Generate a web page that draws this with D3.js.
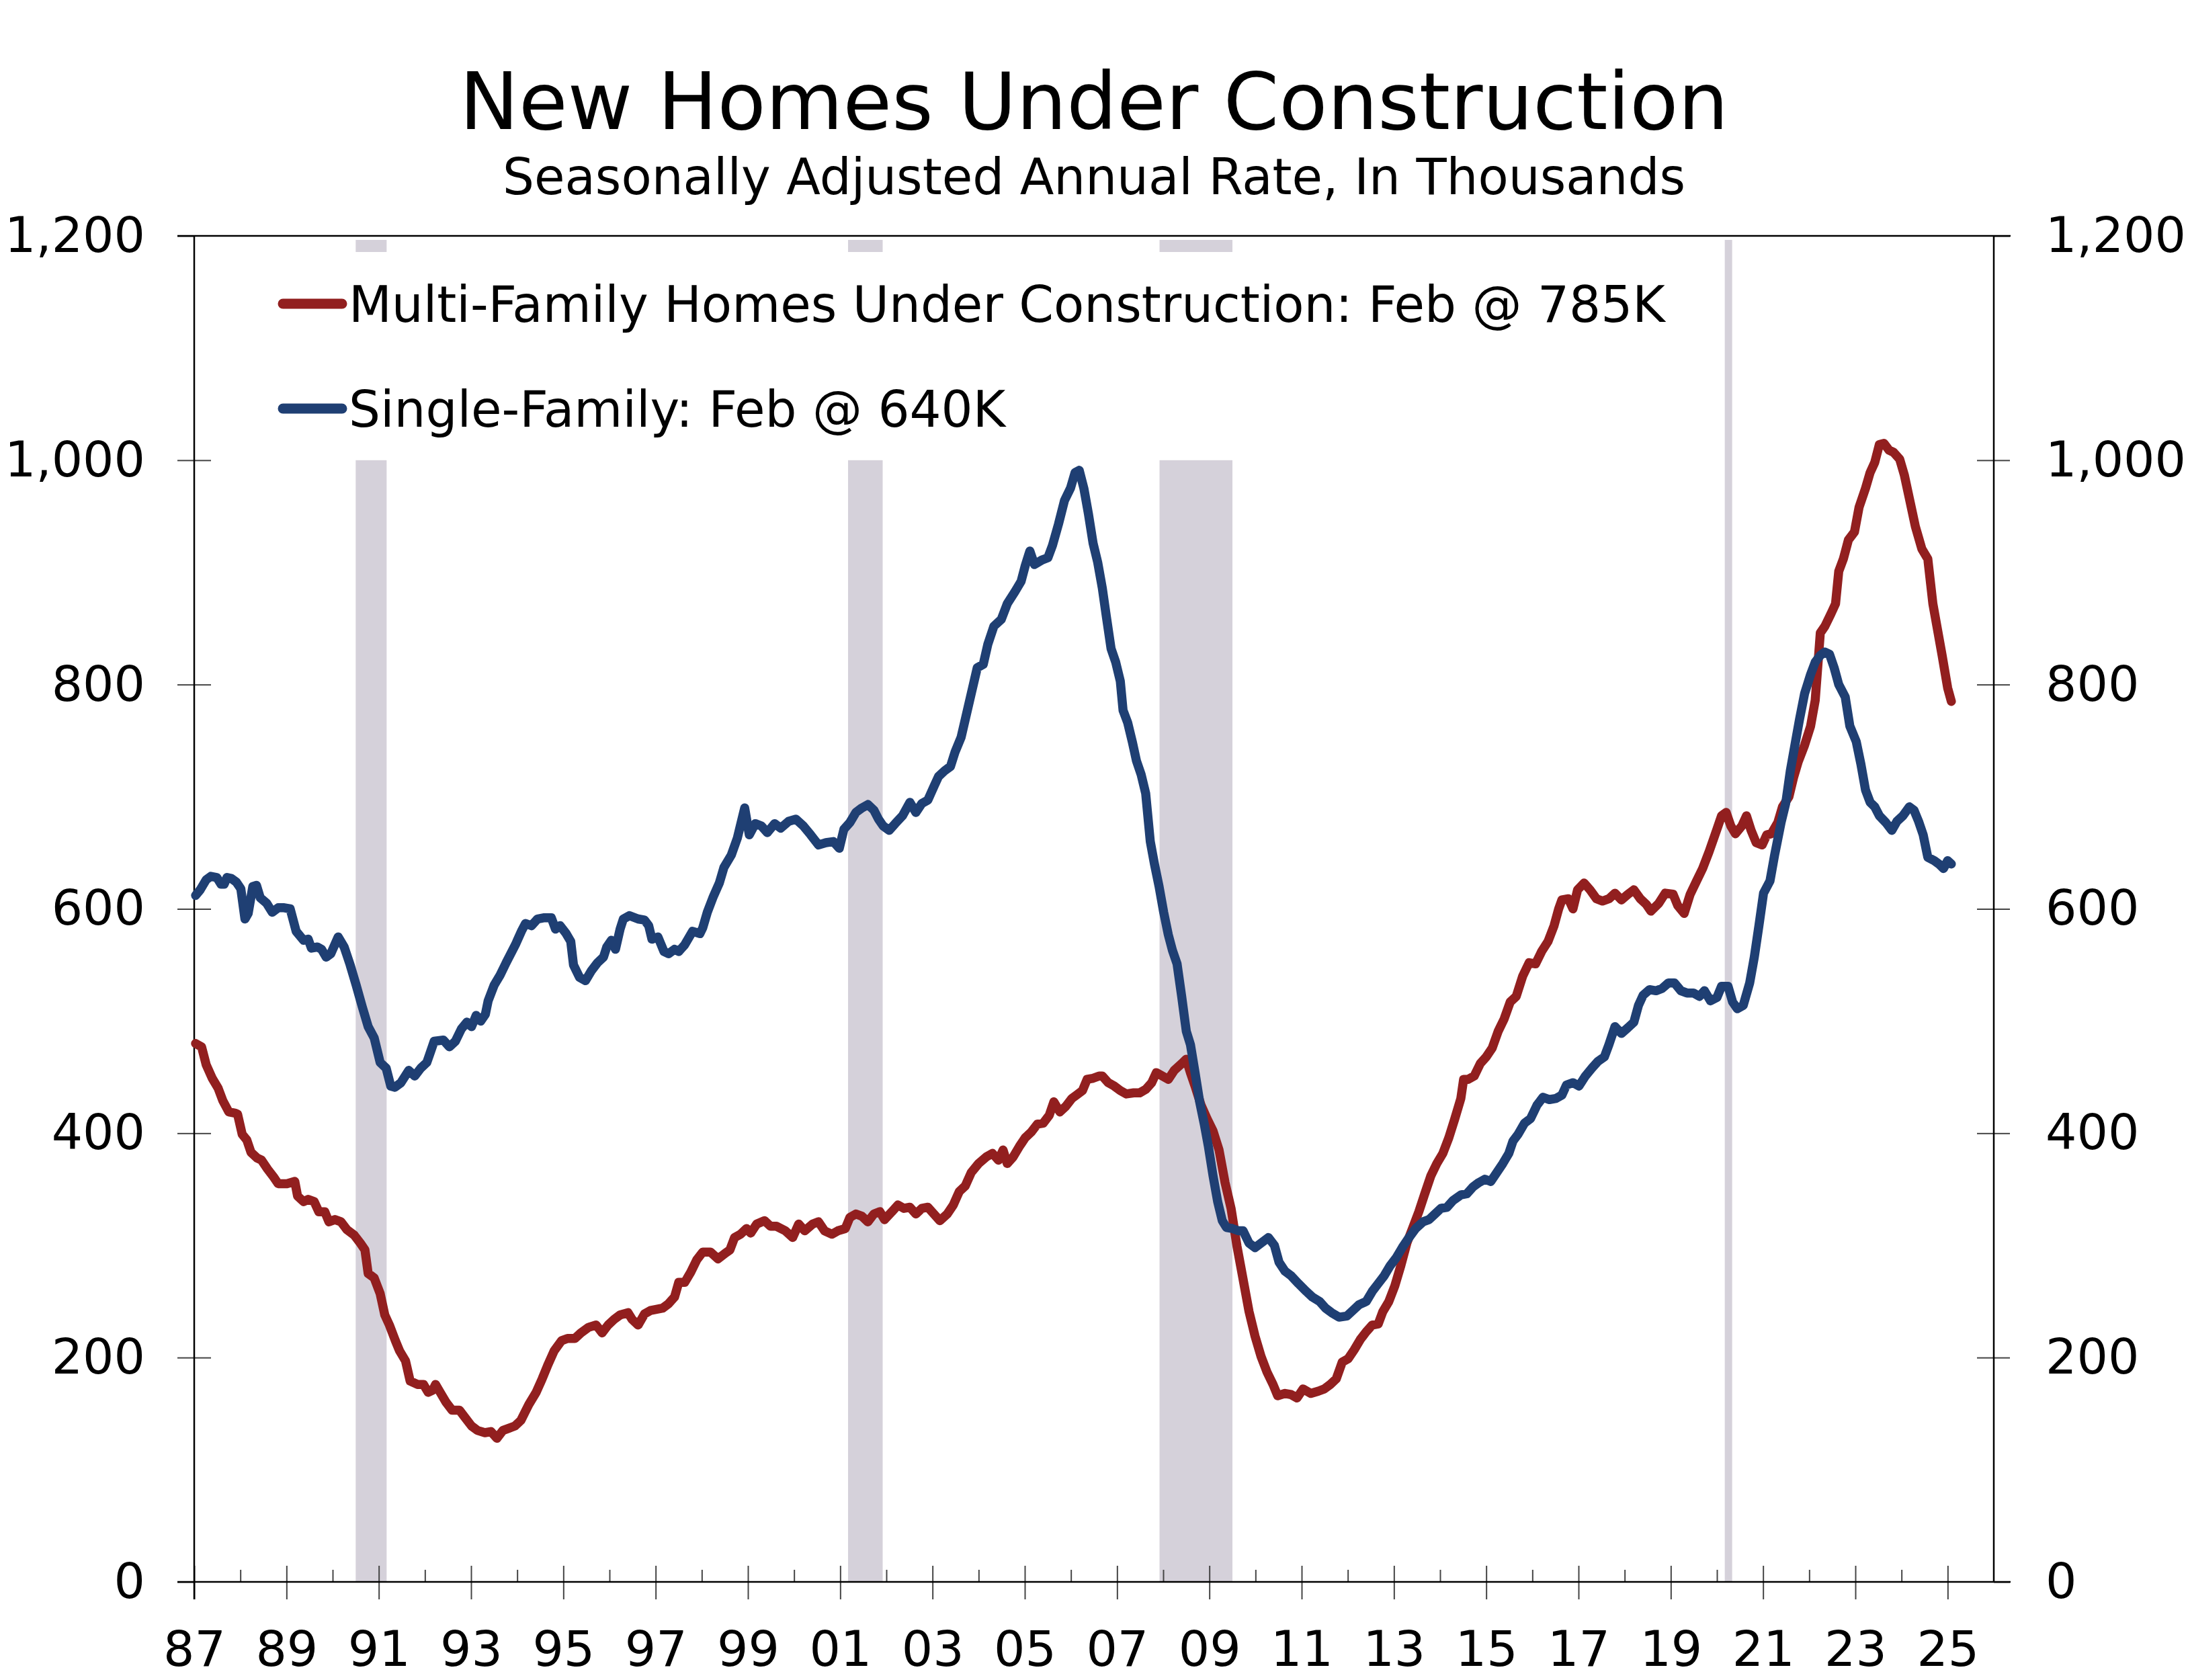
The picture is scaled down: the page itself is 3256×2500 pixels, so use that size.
<!DOCTYPE html>
<html>
<head>
<meta charset="utf-8">
<script src="https://cdn.jsdelivr.net/npm/d3@7"></script>
<style>
  body { margin: 0; background: #fff; }
  svg { font-family: "DejaVu Sans", Verdana, sans-serif; }
</style>
</head>
<body>
<script>
// values, [decimal year, thousands of units]
var multiFamily = [
  [1987.03,480],[1987.16,477],[1987.26,461],[1987.39,449],[1987.52,440],[1987.62,429],[1987.75,419],[1987.88,418],
  [1987.94,417],[1988.04,399],[1988.14,394],[1988.23,383],[1988.36,378],[1988.46,376],[1988.59,368],[1988.72,361],
  [1988.82,355],[1989.01,355],[1989.18,357],[1989.24,344],[1989.37,339],[1989.47,341],[1989.60,339],[1989.70,330],
  [1989.83,330],[1989.92,321],[1990.05,323],[1990.18,321],[1990.31,314],[1990.47,309],[1990.60,302],[1990.70,296],
  [1990.77,275],[1990.90,271],[1991.03,257],[1991.13,238],[1991.23,229],[1991.36,215],[1991.45,206],[1991.58,197],
  [1991.68,179],[1991.84,176],[1991.97,176],[1992.07,169],[1992.17,171],[1992.23,176],[1992.33,169],[1992.46,160],
  [1992.59,153],[1992.75,153],[1992.88,146],[1993.01,139],[1993.14,135],[1993.30,133],[1993.43,134],[1993.56,128],
  [1993.69,135],[1993.82,137],[1993.95,139],[1994.08,144],[1994.25,158],[1994.41,169],[1994.54,181],[1994.67,194],
  [1994.80,206],[1994.96,215],[1995.09,217],[1995.25,217],[1995.38,222],[1995.55,227],[1995.71,229],[1995.84,222],
  [1995.97,229],[1996.10,234],[1996.23,238],[1996.40,240],[1996.49,234],[1996.62,229],[1996.76,239],[1996.89,242],
  [1997.02,243],[1997.15,244],[1997.28,248],[1997.41,254],[1997.50,267],[1997.63,267],[1997.76,276],[1997.89,287],
  [1998.02,294],[1998.19,294],[1998.35,288],[1998.51,293],[1998.61,296],[1998.71,307],[1998.84,310],[1998.97,315],
  [1999.06,311],[1999.19,319],[1999.36,322],[1999.49,317],[1999.62,317],[1999.81,313],[1999.97,307],[2000.10,319],
  [2000.23,313],[2000.40,319],[2000.53,321],[2000.66,313],[2000.82,310],[2000.95,313],[2001.11,315],[2001.21,325],
  [2001.34,328],[2001.47,326],[2001.60,321],[2001.73,328],[2001.86,330],[2001.96,323],[2002.12,330],[2002.25,336],
  [2002.38,333],[2002.51,334],[2002.64,328],[2002.77,333],[2002.90,334],[2003.03,328],[2003.16,322],[2003.32,328],
  [2003.45,336],[2003.58,348],[2003.71,353],[2003.84,365],[2004.00,373],[2004.17,379],[2004.30,382],[2004.43,376],
  [2004.53,385],[2004.62,373],[2004.75,379],[2004.88,388],[2005.01,396],[2005.14,401],[2005.27,408],[2005.40,409],
  [2005.53,416],[2005.63,428],[2005.76,419],[2005.89,424],[2006.02,431],[2006.12,434],[2006.25,438],[2006.35,448],
  [2006.48,449],[2006.61,451],[2006.68,451],[2006.81,445],[2006.94,442],[2007.07,438],[2007.20,435],[2007.36,436],
  [2007.49,436],[2007.62,439],[2007.75,445],[2007.85,454],[2007.98,451],[2008.11,448],[2008.24,456],[2008.40,462],
  [2008.50,466],[2008.59,454],[2008.69,442],[2008.82,425],[2008.95,413],[2009.08,402],[2009.21,385],[2009.34,356],
  [2009.47,333],[2009.60,299],[2009.73,270],[2009.86,241],[2009.99,219],[2010.12,201],[2010.25,187],[2010.38,176],
  [2010.48,166],[2010.64,168],[2010.77,167],[2010.90,164],[2011.03,172],[2011.20,168],[2011.36,170],[2011.49,172],
  [2011.62,176],[2011.75,181],[2011.88,196],[2012.01,199],[2012.14,207],[2012.27,216],[2012.40,223],[2012.53,229],
  [2012.66,230],[2012.76,241],[2012.89,250],[2013.02,264],[2013.15,282],[2013.28,302],[2013.41,316],[2013.54,330],
  [2013.66,345],[2013.80,362],[2013.93,373],[2014.06,382],[2014.19,396],[2014.32,413],[2014.45,431],[2014.51,448],
  [2014.61,448],[2014.74,451],[2014.87,462],[2015.00,468],[2015.13,476],[2015.26,491],[2015.39,502],[2015.52,517],
  [2015.65,522],[2015.79,540],[2015.93,552],[2016.07,551],[2016.20,562],[2016.34,571],[2016.47,585],[2016.57,600],
  [2016.64,608],[2016.78,609],[2016.88,600],[2016.98,617],[2017.12,623],[2017.25,617],[2017.39,609],[2017.52,607],
  [2017.66,609],[2017.79,614],[2017.93,608],[2018.07,613],[2018.20,617],[2018.34,609],[2018.47,604],[2018.57,598],
  [2018.74,605],[2018.88,614],[2019.05,613],[2019.15,603],[2019.29,596],[2019.42,613],[2019.56,625],[2019.69,636],
  [2019.83,651],[2020.00,671],[2020.10,683],[2020.20,686],[2020.30,674],[2020.40,667],[2020.54,674],[2020.64,683],
  [2020.74,670],[2020.85,659],[2020.98,657],[2021.08,666],[2021.18,667],[2021.32,677],[2021.42,691],[2021.56,700],
  [2021.66,717],[2021.76,731],[2021.90,746],[2022.03,763],[2022.13,786],[2022.24,846],[2022.34,852],[2022.47,863],
  [2022.57,872],[2022.64,901],[2022.74,912],[2022.85,929],[2022.98,936],[2023.08,958],[2023.22,975],[2023.32,989],
  [2023.42,998],[2023.52,1014],[2023.62,1015],[2023.73,1009],[2023.83,1007],[2023.96,1001],[2024.06,987],[2024.17,966],
  [2024.30,941],[2024.44,921],[2024.57,912],[2024.68,872],[2024.78,849],[2024.88,826],[2025.00,797],[2025.08,785]
];

var singleFamily = [
  [1987.03,612],[1987.13,617],[1987.26,626],[1987.36,629],[1987.49,628],[1987.58,622],[1987.65,622],[1987.71,628],
  [1987.81,627],[1987.91,624],[1988.01,618],[1988.10,591],[1988.17,596],[1988.27,620],[1988.35,621],[1988.43,610],
  [1988.57,605],[1988.69,597],[1988.82,601],[1988.95,601],[1989.08,600],[1989.21,580],[1989.37,572],[1989.47,573],
  [1989.54,565],[1989.67,566],[1989.76,564],[1989.86,557],[1989.96,560],[1990.12,575],[1990.25,566],[1990.38,550],
  [1990.51,532],[1990.64,513],[1990.77,495],[1990.90,485],[1991.03,463],[1991.16,458],[1991.26,442],[1991.35,441],
  [1991.48,445],[1991.65,456],[1991.78,451],[1991.91,458],[1992.04,463],[1992.10,470],[1992.20,482],[1992.40,483],
  [1992.53,477],[1992.66,482],[1992.79,493],[1992.91,499],[1993.01,495],[1993.11,505],[1993.21,500],[1993.31,506],
  [1993.37,518],[1993.50,532],[1993.63,541],[1993.76,552],[1993.96,568],[1994.09,580],[1994.18,587],[1994.31,585],
  [1994.44,591],[1994.57,592],[1994.74,592],[1994.83,582],[1994.93,585],[1995.06,578],[1995.16,571],[1995.22,550],
  [1995.35,539],[1995.48,536],[1995.61,545],[1995.74,552],[1995.87,557],[1995.94,566],[1996.04,572],[1996.13,564],
  [1996.23,582],[1996.30,591],[1996.43,594],[1996.62,591],[1996.76,590],[1996.85,585],[1996.92,573],[1997.05,575],
  [1997.18,562],[1997.28,560],[1997.41,564],[1997.50,562],[1997.63,568],[1997.80,580],[1997.96,578],[1998.02,583],
  [1998.12,597],[1998.25,611],[1998.38,623],[1998.48,637],[1998.64,648],[1998.77,663],[1998.87,680],[1998.93,690],
  [1999.03,666],[1999.16,676],[1999.29,674],[1999.42,668],[1999.58,676],[1999.71,672],[1999.88,678],[2000.04,680],
  [2000.20,674],[2000.36,666],[2000.53,657],[2000.69,659],[2000.85,660],[2000.98,654],[2001.08,671],[2001.21,677],
  [2001.34,686],[2001.47,690],[2001.60,693],[2001.73,688],[2001.83,680],[2001.93,674],[2002.06,670],[2002.19,676],
  [2002.35,683],[2002.51,695],[2002.64,686],[2002.77,694],[2002.90,697],[2003.03,709],[2003.13,718],[2003.26,723],
  [2003.39,727],[2003.49,740],[2003.62,753],[2003.71,769],[2003.84,792],[2003.97,815],[2004.10,818],[2004.20,836],
  [2004.33,852],[2004.49,858],[2004.62,872],[2004.79,883],[2004.92,892],[2005.01,906],[2005.11,919],[2005.21,907],
  [2005.37,911],[2005.50,913],[2005.60,924],[2005.73,943],[2005.86,964],[2005.99,975],[2006.09,989],[2006.18,991],
  [2006.28,975],[2006.38,952],[2006.48,926],[2006.58,909],[2006.68,886],[2006.77,860],[2006.87,832],[2006.97,820],
  [2007.07,803],[2007.13,777],[2007.23,766],[2007.33,749],[2007.42,732],[2007.52,720],[2007.62,703],[2007.72,660],
  [2007.81,640],[2007.91,620],[2008.01,597],[2008.11,577],[2008.20,563],[2008.30,551],[2008.40,522],[2008.50,491],
  [2008.59,479],[2008.69,454],[2008.79,428],[2008.89,408],[2008.98,388],[2009.08,362],[2009.18,339],[2009.28,322],
  [2009.37,316],[2009.50,315],[2009.63,313],[2009.73,313],[2009.86,302],[2009.99,298],[2010.12,302],[2010.28,307],
  [2010.41,300],[2010.51,285],[2010.64,277],[2010.77,273],[2010.93,266],[2011.10,259],[2011.23,254],[2011.39,250],
  [2011.52,244],[2011.65,240],[2011.81,236],[2011.98,237],[2012.11,242],[2012.24,247],[2012.40,250],[2012.53,259],
  [2012.66,266],[2012.79,273],[2012.92,282],[2013.05,289],[2013.18,298],[2013.31,306],[2013.47,315],[2013.63,321],
  [2013.76,323],[2013.89,328],[2014.02,333],[2014.15,334],[2014.28,340],[2014.45,345],[2014.58,346],[2014.71,352],
  [2014.84,356],[2014.97,359],[2015.10,357],[2015.23,365],[2015.36,373],[2015.49,382],[2015.58,393],[2015.69,399],
  [2015.83,409],[2015.96,413],[2016.10,425],[2016.23,432],[2016.37,430],[2016.51,431],[2016.64,434],[2016.74,443],
  [2016.88,445],[2017.01,442],[2017.15,451],[2017.29,458],[2017.42,464],[2017.56,468],[2017.66,479],[2017.79,495],
  [2017.93,489],[2018.07,494],[2018.20,499],[2018.30,514],[2018.40,523],[2018.54,528],[2018.68,527],[2018.81,529],
  [2018.95,534],[2019.08,534],[2019.22,527],[2019.35,525],[2019.49,525],[2019.62,522],[2019.73,527],[2019.86,518],
  [2020.00,521],[2020.10,531],[2020.24,531],[2020.34,517],[2020.44,511],[2020.57,514],[2020.71,534],[2020.81,557],
  [2020.91,585],[2021.01,614],[2021.15,625],[2021.25,648],[2021.39,677],[2021.49,694],[2021.59,723],[2021.69,746],
  [2021.79,769],[2021.90,792],[2022.03,809],[2022.13,820],[2022.24,826],[2022.34,829],[2022.44,827],[2022.54,815],
  [2022.64,800],[2022.78,789],[2022.88,763],[2023.02,749],[2023.12,729],[2023.22,706],[2023.32,695],[2023.42,691],
  [2023.52,683],[2023.66,677],[2023.79,670],[2023.90,678],[2024.03,683],[2024.17,691],[2024.27,688],[2024.37,678],
  [2024.47,666],[2024.57,646],[2024.71,643],[2024.81,640],[2024.91,636],[2025.00,643],[2025.08,640]
];

// recessions (decimal year start / end)
var recessionStart = [1990.50, 2001.17, 2007.92, 2020.17];
var recessionEnd   = [1991.17, 2001.92, 2009.50, 2020.33];

var majorYears = d3.range(1987, 2026, 2);
var minorYears = d3.range(1988, 2026, 2);
var yTicks = [0, 200, 400, 600, 800, 1000, 1200];

var legendLabels = ["Multi-Family Homes Under Construction: Feb @ 785K", "Single-Family: Feb @ 640K"];
var seriesColors = ["#921f1f", "#1f3f73"];

var W = 3256, H = 2500;
var plotLeft = 289, plotRight = 2967, plotTop = 351, plotBottom = 2354;

var svg = d3.select("body").append("svg")
    .attr("width", W)
    .attr("height", H);

var x = d3.scaleLinear().domain([1987, 2026]).range([plotLeft, plotRight]);
var y = d3.scaleLinear().domain([0, 1200]).range([plotBottom, plotTop]);

// title
svg.append("text")
    .attr("x", 1628).attr("y", 192)
    .attr("text-anchor", "middle")
    .attr("font-size", 118)
    .text("New Homes Under Construction");
svg.append("text")
    .attr("x", 1628).attr("y", 289)
    .attr("text-anchor", "middle")
    .attr("font-size", 74)
    .text("Seasonally Adjusted Annual Rate, In Thousands");

// recession bars
svg.append("g").selectAll("rect")
    .data(recessionStart)
    .enter()
    .append("rect")
    .attr("x", (d) => x(d))
    .attr("width", (d, i) => x(recessionEnd[i]) - x(d))
    .attr("y", plotTop + 6)
    .attr("height", plotBottom - plotTop - 6)
    .attr("fill", "#d5d1da");

// white box under the legend
svg.append("rect")
    .attr("x", plotLeft + 10).attr("y", 375)
    .attr("width", 2230).attr("height", y(1000) - 375)
    .attr("fill", "#fff");

// axes
var tickColor = "#444";
function styleAxis(g) {
    g.select(".domain").remove();
    g.selectAll(".tick line").attr("stroke", tickColor).attr("stroke-width", 2);
    g.selectAll("text").attr("font-size", 73).attr("fill", "#000")
        .attr("font-family", "DejaVu Sans, Verdana, sans-serif");
}

svg.append("g")
    .attr("transform", `translate(${plotLeft},0)`)
    .call(d3.axisLeft(y).tickValues(yTicks).tickSize(25).tickPadding(48).tickFormat(d3.format(",")))
    .call(styleAxis);
svg.append("g")
    .attr("transform", `translate(${plotLeft},0)`)
    .call(d3.axisRight(y).tickValues(yTicks.slice(1, 6)).tickSize(25).tickFormat(""))
    .call(styleAxis);

svg.append("g")
    .attr("transform", `translate(${plotRight},0)`)
    .call(d3.axisRight(y).tickValues(yTicks).tickSize(24).tickPadding(53).tickFormat(d3.format(",")))
    .call(styleAxis);
svg.append("g")
    .attr("transform", `translate(${plotRight},0)`)
    .call(d3.axisLeft(y).tickValues(yTicks.slice(1, 6)).tickSize(25).tickFormat(""))
    .call(styleAxis);

svg.append("g")
    .attr("transform", `translate(0,${plotBottom})`)
    .call(d3.axisBottom(x).tickValues(majorYears).tickSize(26).tickPadding(47)
        .tickFormat((d) => String(d % 100).padStart(2, "0")))
    .call(styleAxis);
svg.append("g")
    .attr("transform", `translate(0,${plotBottom})`)
    .call(d3.axisTop(x).tickValues(majorYears).tickSize(24).tickFormat(""))
    .call(styleAxis);
svg.append("g")
    .attr("transform", `translate(0,${plotBottom})`)
    .call(d3.axisTop(x).tickValues(minorYears).tickSize(18).tickFormat(""))
    .call(styleAxis);

// frame lines
svg.append("line").attr("x1", plotLeft - 25).attr("x2", plotRight + 25).attr("y1", plotBottom).attr("y2", plotBottom)
    .attr("stroke", "#000").attr("stroke-width", 2.5);
svg.append("line").attr("x1", plotLeft - 25).attr("x2", plotRight + 25).attr("y1", plotTop).attr("y2", plotTop)
    .attr("stroke", "#000").attr("stroke-width", 2.5);
svg.append("line").attr("x1", plotLeft).attr("x2", plotLeft).attr("y1", plotTop).attr("y2", plotBottom + 26)
    .attr("stroke", "#000").attr("stroke-width", 2.5);
svg.append("line").attr("x1", plotRight).attr("x2", plotRight).attr("y1", plotTop).attr("y2", plotBottom)
    .attr("stroke", "#000").attr("stroke-width", 2.5);

// series
var line = d3.line()
    .x((d) => x(d[0]))
    .y((d) => y(d[1]));

[multiFamily, singleFamily].forEach((series, i) => {
    svg.append("path")
        .datum(series)
        .attr("fill", "none")
        .attr("stroke", seriesColors[i])
        .attr("stroke-width", 13.5)
        .attr("stroke-linejoin", "round")
        .attr("stroke-linecap", "round")
        .attr("d", line);
});

// legend
var legend = svg.append("g");
legendLabels.forEach((label, i) => {
    var ly = 452 + i * 156;
    legend.append("line")
        .attr("x1", 421).attr("x2", 509)
        .attr("y1", ly).attr("y2", ly)
        .attr("stroke", seriesColors[i])
        .attr("stroke-width", 15)
        .attr("stroke-linecap", "round");
    legend.append("text")
        .attr("x", 519).attr("y", ly + 27)
        .attr("font-size", 74)
        .text(label);
});
</script>
</body>
</html>
